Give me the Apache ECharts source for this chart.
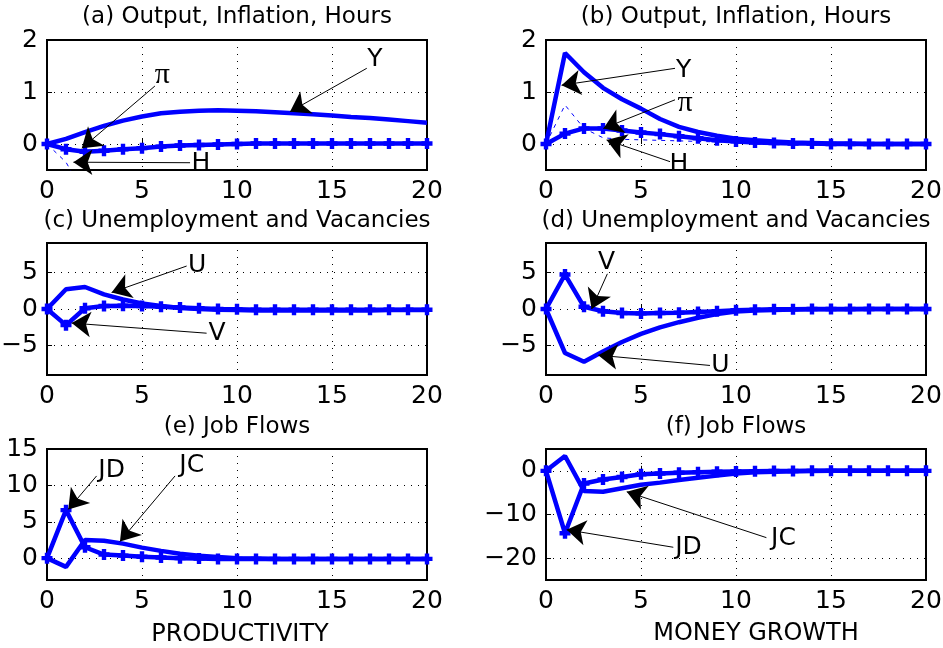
<!DOCTYPE html>
<html>
<head>
<meta charset="utf-8">
<script src="https://cdn.jsdelivr.net/npm/echarts@6/dist/echarts.min.js"></script>
<style>
  html, body { margin: 0; padding: 0; background: #fff; }
  #chart { width: 943px; height: 648px; }
</style>
</head>
<body>
<div id="chart"></div>
<script>
// periods
const steps = [0, 1, 2, 3, 4, 5, 6, 7, 8, 9, 10, 11, 12, 13, 14, 15, 16, 17, 18, 19, 20]

// (a) productivity: output, inflation, hours
const aY = [0, 0.1, 0.23, 0.35, 0.45, 0.53, 0.59, 0.62, 0.64, 0.65, 0.64, 0.63, 0.61, 0.59, 0.57, 0.55, 0.52, 0.5, 0.47, 0.44, 0.41]
const aPi = [0, -0.1, -0.15, -0.13, -0.1, -0.08, -0.05, -0.03, -0.02, -0.01, 0, 0.01, 0.01, 0.01, 0.01, 0.01, 0.01, 0.01, 0.01, 0.01, 0.01]
const aH = [0, -0.35, -1.0, -1.1, -1.1, -1.05, -1.0, -0.95, -0.9, -0.85, -0.8, -0.77, -0.74, -0.71, -0.68, -0.65, -0.63, -0.61, -0.59, -0.57, -0.55]
// (b) money growth: output, inflation, hours
const bY = [0, 1.75, 1.38, 1.08, 0.86, 0.68, 0.48, 0.33, 0.23, 0.16, 0.1, 0.07, 0.05, 0.03, 0.02, 0.01, 0.01, 0, 0, 0, 0]
const bPi = [0, 0.2, 0.3, 0.3, 0.26, 0.22, 0.19, 0.15, 0.11, 0.07, 0.05, 0.03, 0.02, 0.01, 0.01, 0, 0, 0, 0, 0, 0]
const bH = [0, 0.75, 0.3, 0.12, 0.09, 0.08, 0.07, 0.06, 0.05, 0.04, 0.03, 0.02, 0.01, 0.01, 0, 0, 0, 0, 0, 0, 0]
// (c) productivity: unemployment, vacancies
const cU = [0, 2.7, 3.0, 2.0, 1.3, 0.75, 0.4, 0.15, 0, -0.1, -0.15, -0.2, -0.2, -0.2, -0.2, -0.2, -0.2, -0.2, -0.15, -0.15, -0.15]
const cV = [0, -2.2, 0.1, 0.4, 0.45, 0.4, 0.3, 0.2, 0.1, 0, -0.05, -0.1, -0.1, -0.1, -0.1, -0.1, -0.1, -0.1, -0.1, -0.1, -0.1]
// (d) money growth: unemployment, vacancies
const dU = [0, -6.0, -7.2, -5.8, -4.5, -3.4, -2.5, -1.8, -1.2, -0.7, -0.35, -0.2, -0.12, -0.08, -0.05, -0.03, -0.02, -0.01, 0, 0, 0]
const dV = [0, 4.7, 0.3, -0.3, -0.55, -0.6, -0.55, -0.5, -0.4, -0.3, -0.18, -0.1, -0.05, -0.02, 0, 0, 0, 0, 0, 0, 0]
// (e) productivity: job creation, job destruction
const eJC = [0, -1.2, 2.5, 2.4, 2.0, 1.45, 1.0, 0.6, 0.35, 0.15, 0, -0.05, -0.1, -0.1, -0.1, -0.1, -0.1, -0.1, -0.1, -0.1, -0.1]
const eJD = [0, 6.6, 1.5, 0.5, 0.35, 0.2, 0.1, 0, -0.05, -0.1, -0.1, -0.1, -0.1, -0.1, -0.1, -0.1, -0.1, -0.1, -0.1, -0.1, -0.1]
// (f) money growth: job creation, job destruction
const fJC = [0, 3.4, -4.6, -4.8, -4.0, -3.2, -2.7, -2.1, -1.6, -1.1, -0.6, -0.35, -0.2, -0.1, -0.05, 0, 0, 0, 0, 0, 0]
const fJD = [0, -14.3, -2.9, -2.0, -1.4, -0.8, -0.6, -0.45, -0.3, -0.2, -0.15, -0.1, -0.05, -0.05, 0, 0, 0, 0, 0, 0, 0]

// tick labels
const xTicks = [0, 5, 10, 15, 20]
const yTicksAB = [0, 1, 2]
const yTicksCD = [-5, 0, 5]
const yTicksE = [0, 5, 10, 15]
const yTicksF = [-20, -10, 0]

const titles = ['(a) Output, Inflation, Hours', '(b) Output, Inflation, Hours',
  '(c) Unemployment and Vacancies', '(d) Unemployment and Vacancies',
  '(e) Job Flows', '(f) Job Flows']

const FONT = 'DejaVu Sans'
const BLUE = '#0000ff'
const PLUS = 'path://M3,0H7V3H10V7H7V10H3V7H0V3H3Z'

// panel layout: grid box, y range, ticks, lines, arrows [text, labelX, labelY, tailX, tailY, headX, headY]
const panels = [
  { left: 47, top: 40, height: 130, min: -0.5, max: 2, ticks: yTicksAB,
    solid: aY, marked: aPi, dashed: aH,
    notes: [['Y', 17.26, 1.62, 16.83, 1.456, 12.79, 0.62],
      ['π', 6.07, 1.33, 5.68, 1.115, 1.83, -0.083],
      ['H', 8.1, -0.37, 7.53, -0.36, 1.39, -0.35]] },
  { left: 546, top: 40, height: 130, min: -0.5, max: 2, ticks: yTicksAB,
    solid: bY, marked: bPi, dashed: bH,
    notes: [['Y', 7.25, 1.42, 6.79, 1.455, 0.82, 1.13],
      ['π', 7.32, 0.78, 6.79, 0.85, 3.02, 0.3],
      ['H', 7.0, -0.4, 6.53, -0.34, 3.19, 0.077]] },
  { left: 47, top: 243, height: 132, min: -9, max: 9, ticks: yTicksCD,
    solid: cU, marked: cV,
    notes: [['U', 7.9, 5.94, 7.35, 5.86, 3.4, 2.25],
      ['V', 8.95, -3.3, 8.4, -3.3, 1.3, -1.92]] },
  { left: 546, top: 243, height: 132, min: -9, max: 9, ticks: yTicksCD,
    solid: dU, marked: dV,
    notes: [['V', 3.19, 6.4, 3.23, 4.8, 2.4, 0],
      ['U', 9.18, -7.7, 8.63, -7.7, 2.75, -6.3]] },
  { left: 47, top: 449, height: 131, min: -3, max: 15, ticks: yTicksE,
    solid: eJC, marked: eJD,
    notes: [['JD', 3.4, 12.1, 2.61, 11.3, 1.12, 6.7],
      ['JC', 7.62, 12.7, 6.74, 11.3, 3.84, 2.3]] },
  { left: 546, top: 449, height: 131, min: -25, max: 5, ticks: yTicksF,
    solid: fJC, marked: fJD,
    notes: [['JC', 12.5, -15.5, 11.6, -15.3, 4.25, -4.8],
      ['JD', 7.5, -17.5, 6.7, -17.5, 1.09, -13.5]] }
]

const pairs = vals => steps.map((s, i) => [s, vals[i]])
const minus = v => String(v).replace('-', '\u2212')

const grid = []
const xAxis = []
const yAxis = []
const series = []
const graphic = []

panels.forEach((p, i) => {
  grid.push({
    left: p.left, top: p.top, width: 380, height: p.height,
    show: true, borderColor: '#000', borderWidth: 2, backgroundColor: '#fff',
    containLabel: false, outerBoundsMode: 'none'
  })
  xAxis.push({
    type: 'value', gridIndex: i, min: 0, max: 20, interval: 5,
    axisLine: { show: false },
    axisTick: { show: true, inside: true, length: 5, lineStyle: { color: '#000', width: 1 } },
    axisLabel: { color: '#000', fontSize: 25, fontFamily: FONT, margin: 9 },
    splitLine: { show: true, lineStyle: { color: '#000', width: 1, type: [1, 6] } }
  })
  yAxis.push({
    type: 'value', gridIndex: i, min: p.min, max: p.max,
    axisLine: { show: false },
    axisTick: { show: true, inside: true, length: 5, customValues: p.ticks, lineStyle: { color: '#000', width: 1 } },
    axisLabel: { color: '#000', fontSize: 25, fontFamily: FONT, margin: 9, customValues: p.ticks, formatter: minus },
    splitLine: { show: true, lineStyle: { color: '#000', width: 1, type: [1, 6] } }
  })
  series.push({
    type: 'line', xAxisIndex: i, yAxisIndex: i, data: pairs(p.solid),
    showSymbol: false, symbol: 'none', lineStyle: { color: BLUE, width: 4.5 }, z: 3,
    markLine: {
      silent: true, symbol: ['none', 'arrow'], symbolSize: 19,
      lineStyle: { color: '#000', width: 1, type: 'solid' },
      itemStyle: { color: '#000' },
      label: { show: false },
      data: p.notes.map(n => [{ coord: [n[3], n[4]] }, { coord: [n[5], n[6]] }])
    },
    markPoint: {
      silent: true, symbol: 'circle', symbolSize: 1,
      itemStyle: { color: 'transparent' },
      label: { show: true, position: 'inside', formatter: '{b}', color: '#000', fontSize: 25 },
      data: p.notes.map(n => ({
        name: n[0], coord: [n[1], n[2]],
        label: n[0] === 'π' ? { fontFamily: 'Liberation Serif', fontSize: 30 } : { fontFamily: FONT }
      }))
    }
  })
  series.push({
    type: 'line', xAxisIndex: i, yAxisIndex: i, data: pairs(p.marked),
    symbol: PLUS, symbolSize: 11, showSymbol: true,
    itemStyle: { color: BLUE }, lineStyle: { color: BLUE, width: 4.5 }, z: 4
  })
  if (p.dashed) {
    series.push({
      type: 'line', xAxisIndex: i, yAxisIndex: i, data: pairs(p.dashed),
      symbol: 'none', lineStyle: { color: BLUE, width: 1, type: [4, 5] }, z: 2
    })
  }
  const rowY = [17, 221, 427][Math.floor(i / 2)]
  graphic.push({
    type: 'text', x: p.left + 190, y: rowY,
    style: { text: titles[i], fill: '#000', fontSize: 23, fontFamily: FONT,
      align: 'center', verticalAlign: 'middle', textAlign: 'center', textVerticalAlign: 'middle' }
  })
})

// x axis names under the bottom row
graphic.push({
  type: 'text', x: 240, y: 635,
  style: { text: 'PRODUCTIVITY', fill: '#000', fontSize: 24, fontFamily: FONT,
    align: 'center', verticalAlign: 'middle', textAlign: 'center', textVerticalAlign: 'middle' }
})
graphic.push({
  type: 'text', x: 756, y: 634,
  style: { text: 'MONEY GROWTH', fill: '#000', fontSize: 24, fontFamily: FONT,
    align: 'center', verticalAlign: 'middle', textAlign: 'center', textVerticalAlign: 'middle' }
})

const myChart = echarts.init(document.getElementById('chart'))
const option = {
  backgroundColor: '#fff',
  animation: false,
  grid,
  xAxis,
  yAxis,
  series,
  graphic
}
option && myChart.setOption(option)
</script>
</body>
</html>
